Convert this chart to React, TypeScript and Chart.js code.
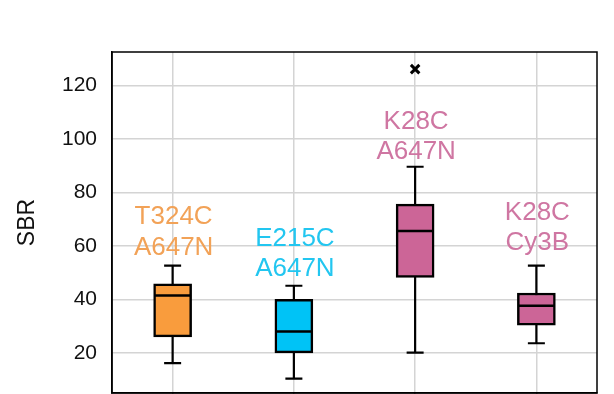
import React, { useEffect, useRef } from "react";
import { Chart, registerables } from "chart.js";

Chart.register(...registerables);

const categories = ["T324C A647N", "E215C A647N", "K28C A647N", "K28C Cy3B"];
const labelLines = [["T324C", "A647N"], ["E215C", "A647N"], ["K28C", "A647N"], ["K28C", "Cy3B"]];
const whiskerLow = [16.2, 10.4, 20.1, 23.6];
const q1 = [26, 20, 48.2, 30.4];
const median = [41.5, 28, 65.6, 37.6];
const q3 = [45.8, 40, 75.6, 42.4];
const whiskerHigh = [52.6, 45.1, 89.6, 52.6];
const outliers: (number | null)[] = [null, null, 126.1, null];
const labelY = [70.8, 62.7, 106.5, 72.5];
const yTicks = [20, 40, 60, 80, 100, 120];

const boxColors = ["#F99C3D", "#00C3F6", "#CC6597", "#CC6597"];
const textColors = ["#F2A257", "#22C6F0", "#CF76A2", "#CF76A2"];
const FONT = "'Liberation Sans', Arial, Helvetica, sans-serif";

const boxPlugin = {
  id: "boxExtras",
  beforeDatasetsDraw(chart: any) {
    const { ctx, scales } = chart;
    const x = scales.x, y = scales.y;
    ctx.save();
    ctx.strokeStyle = "#000";
    ctx.lineWidth = 2.2;
    categories.forEach((_, i) => {
      const cx = x.getPixelForValue(i);
      const yl = y.getPixelForValue(whiskerLow[i]);
      const yh = y.getPixelForValue(whiskerHigh[i]);
      ctx.beginPath();
      ctx.moveTo(cx, yl);
      ctx.lineTo(cx, yh);
      ctx.moveTo(cx - 8.5, yl);
      ctx.lineTo(cx + 8.5, yl);
      ctx.moveTo(cx - 8.5, yh);
      ctx.lineTo(cx + 8.5, yh);
      ctx.stroke();
    });
    ctx.restore();
  },
  afterDatasetsDraw(chart: any) {
    const { ctx, scales, chartArea } = chart;
    const x = scales.x, y = scales.y;
    ctx.save();
    ctx.strokeStyle = "#000";
    ctx.lineWidth = 2.5;
    categories.forEach((_, i) => {
      const cx = x.getPixelForValue(i);
      const ym = y.getPixelForValue(median[i]);
      ctx.beginPath();
      ctx.moveTo(cx - 18, ym);
      ctx.lineTo(cx + 18, ym);
      ctx.stroke();
    });
    ctx.font = `26px ${FONT}`;
    ctx.textAlign = "center";
    ctx.textBaseline = "middle";
    categories.forEach((_, i) => {
      const cx = x.getPixelForValue(i);
      const ty = y.getPixelForValue(labelY[i]);
      ctx.fillStyle = textColors[i];
      labelLines[i].forEach((t, k) => ctx.fillText(t, cx + 1, ty + k * 30.5));
    });
    ctx.lineWidth = 1.5;
    ctx.strokeStyle = "#000";
    ctx.strokeRect(chartArea.left, chartArea.top, chartArea.right - chartArea.left, chartArea.bottom - chartArea.top);
    ctx.restore();
  },
};

export default function App() {
  const ref = useRef<HTMLCanvasElement>(null);
  useEffect(() => {
    const chart = new Chart(ref.current!, {
      type: "bar",
      data: {
        labels: categories,
        datasets: [
          {
            type: "bar",
            data: categories.map((_, i) => [q1[i], q3[i]]) as any,
            backgroundColor: boxColors,
            borderColor: "#000",
            borderWidth: 2.5,
            borderSkipped: false,
            barThickness: 38,
          } as any,
          {
            type: "line",
            data: outliers as any,
            showLine: false,
            pointStyle: "crossRot",
            pointRadius: 6,
            pointBorderWidth: 3,
            borderColor: "#000",
            backgroundColor: "#000",
          } as any,
        ],
      },
      options: {
        animation: false,
        responsive: false,
        layout: { padding: { top: 52, right: 17, left: 0, bottom: 0 } },
        plugins: { legend: { display: false }, tooltip: { enabled: false } },
        scales: {
          x: {
            type: "category",
            offset: true,
            grid: { offset: false, color: "#d4d4d4", lineWidth: 1.5, drawTicks: true, tickLength: 6, tickColor: "#000", tickWidth: 1.5 },
            ticks: { display: false },
            border: { display: true, color: "#000", width: 1.5 },
            afterFit: (s: any) => { s.height = 2; s.paddingLeft = 0; s.paddingRight = 0; },
          },
          y: {
            min: 5,
            max: 132.5,
            afterBuildTicks: (s: any) => { s.ticks = yTicks.map((v) => ({ value: v })); },
            ticks: { font: { family: FONT, size: 21 }, color: "#111", padding: 15 },
            grid: { color: "#d4d4d4", lineWidth: 1.5, drawTicks: false },
            border: { display: true, color: "#000", width: 1.5 },
            title: { display: true, text: "SBR", font: { family: FONT, size: 23 }, color: "#111", padding: { top: 14, bottom: 0 } },
            afterFit: (s: any) => { s.width = 112; s.paddingTop = 0; s.paddingBottom = 0; },
          },
        },
      },
      plugins: [boxPlugin],
    } as any);
    return () => chart.destroy();
  }, []);
  return (
    <div style={{ position: "fixed", left: 0, top: 0, width: 614, height: 394, overflow: "hidden", background: "#fff" }}>
      <canvas ref={ref} width={614} height={402} style={{ display: "block" }} />
    </div>
  );
}
